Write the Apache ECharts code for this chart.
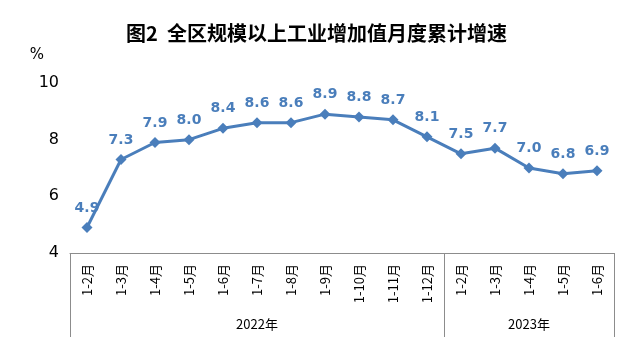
<!DOCTYPE html>
<html>
<head>
<meta charset="utf-8">
<script src="https://cdn.jsdelivr.net/npm/echarts@6/dist/echarts.min.js"></script>
<style>
  html, body { margin: 0; padding: 0; background: #fff; }
  #main { width: 633px; height: 352px; }
</style>
</head>
<body>
<div id="main"></div>
<script>
// 月度累计（分类轴）
const months = ['1-2月', '1-3月', '1-4月', '1-5月', '1-6月', '1-7月', '1-8月', '1-9月',
  '1-10月', '1-11月', '1-12月', '1-2月', '1-3月', '1-4月', '1-5月', '1-6月'];
// 每个分类所属年份
const years = ['2022年', '2022年', '2022年', '2022年', '2022年', '2022年', '2022年', '2022年',
  '2022年', '2022年', '2022年', '2023年', '2023年', '2023年', '2023年', '2023年'];
// 累计增速 %
const growth = [4.9, 7.3, 7.9, 8.0, 8.4, 8.6, 8.6, 8.9, 8.8, 8.7, 8.1, 7.5, 7.7, 7.0, 6.8, 6.9];
const yTicks = [4, 6, 8, 10];

const blue = '#4a7ebb';
const boxColor = '#8c8c8c';

// 年份分组的边界（第一个分类下标）
const groupStarts = [0, years.indexOf('2023年')];
// 年份标签放在每组中间的分类上
const groupCenters = [5, 13];

let chart = echarts.init(document.getElementById('main'));

chart.setOption({
  backgroundColor: '#fff',
  animation: false,
  title: {
    text: '图2  全区规模以上工业增加值月度累计增速',
    left: 'center',
    top: 18,
    textStyle: {
      fontFamily: 'Noto Sans CJK SC',
      fontSize: 20,
      fontWeight: 'bold',
      color: '#000'
    }
  },
  grid: { left: 70, right: 19, top: 83, bottom: 99 },
  xAxis: [{
    type: 'category',
    data: months,
    boundaryGap: true,
    axisLine: { lineStyle: { color: boxColor, width: 1 } },
    axisTick: {
      show: true,
      length: 84,
      interval: function (i) { return groupStarts.indexOf(i) >= 0; },
      lineStyle: { color: boxColor, width: 1 }
    },
    axisLabel: {
      interval: 0,
      rotate: 90,
      margin: 11,
      fontFamily: 'Noto Sans CJK SC',
      fontSize: 13,
      color: '#000'
    }
  }, {
    type: 'category',
    data: years,
    position: 'bottom',
    boundaryGap: true,
    axisLine: { show: false },
    axisTick: { show: false },
    axisLabel: {
      interval: function (i) { return groupCenters.indexOf(i) >= 0; },
      margin: 65,
      fontFamily: 'Noto Sans CJK SC',
      fontSize: 13,
      color: '#000'
    }
  }],
  yAxis: {
    type: 'value',
    min: yTicks[0],
    max: yTicks[yTicks.length - 1],
    interval: 2,
    name: '%',
    nameLocation: 'end',
    nameGap: 20,
    nameTextStyle: {
      fontFamily: 'DejaVu Sans',
      fontSize: 15,
      color: '#000',
      align: 'right',
      padding: [0, 26, 0, 0]
    },
    axisLine: { show: false },
    axisTick: { show: false },
    splitLine: { show: false },
    axisLabel: {
      margin: 11,
      fontFamily: 'DejaVu Sans',
      fontSize: 16,
      color: '#000'
    }
  },
  series: [{
    type: 'line',
    data: growth,
    symbol: 'diamond',
    symbolSize: 11,
    showAllSymbol: true,
    lineStyle: { color: blue, width: 3 },
    itemStyle: { color: blue },
    label: {
      show: true,
      position: 'top',
      distance: 7,
      formatter: function (p) { return p.value.toFixed(1); },
      fontFamily: 'DejaVu Sans',
      fontSize: 14,
      fontWeight: 'bold',
      color: blue
    }
  }]
});

window.addEventListener('resize', function () {
  chart.resize();
});
</script>
</body>
</html>
